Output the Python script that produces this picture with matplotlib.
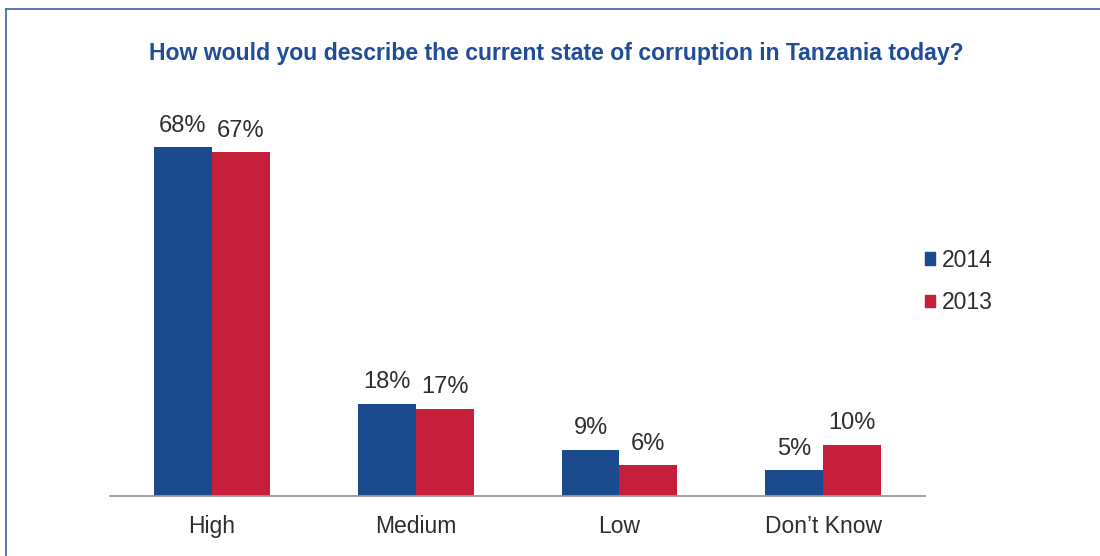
import numpy as np
import matplotlib.pyplot as plt
from matplotlib.patches import Patch
from matplotlib.lines import Line2D

categories = ['High', 'Medium', 'Low', "Don\u2019t Know"]
vals_2014 = [68, 18, 9, 5]
vals_2013 = [67, 17, 6, 10]
years = ['2014', '2013']

blue = '#1b4a8f'
red = '#c51f3c'
text_gray = '#2e2e2e'

plt.rcParams['font.family'] = ['Liberation Sans', 'DejaVu Sans']

fig = plt.figure(figsize=(11, 5.56), dpi=100)
ax = fig.add_axes([0.1, 0.108, 0.741, 0.692])

x = np.arange(len(categories))
w = 0.284
b1 = ax.bar(x - w / 2, vals_2014, w, color=blue, label=years[0])
b2 = ax.bar(x + w / 2, vals_2013, w, color=red, label=years[1])

for bars, vals in ((b1, vals_2014), (b2, vals_2013)):
    for rect, v in zip(bars, vals):
        ax.annotate(f'{v}%', (rect.get_x() + rect.get_width() / 2, v),
                    xytext=(0, 7.5), textcoords='offset points',
                    ha='center', va='bottom', fontsize=17, color=text_gray)

ax.set_xlim(-0.5, 3.5)
ax.set_ylim(0, 75)
ax.set_xticks(x)
ax.set_xticklabels(categories, fontsize=16.5, color=text_gray)
ax.tick_params(axis='x', length=0, pad=14)
ax.set_yticks([])
for side in ('top', 'right', 'left'):
    ax.spines[side].set_visible(False)
ax.spines['bottom'].set_color('#999999')
ax.spines['bottom'].set_linewidth(1.3)

fig.text(0.506, 0.903, 'How would you describe the current state of corruption in Tanzania today?',
         ha='center', va='center', fontsize=16.6, fontweight='bold', color='#1f4d96')

handles = [Patch(color=blue, label=years[0]), Patch(color=red, label=years[1])]
fig.legend(handles=handles, loc='center left', bbox_to_anchor=(0.822, 0.494),
           frameon=False, fontsize=16.5, handlelength=0.45, handleheight=0.45,
           handletextpad=0.3, labelspacing=0.85, labelcolor=text_gray)

# thin blue frame along the top and left edges
fig.add_artist(Line2D([0.0055, 0.0055], [0, 0.984], color='#4a6db3', lw=1.3,
                      transform=fig.transFigure))
fig.add_artist(Line2D([0.0055, 1], [0.984, 0.984], color='#4a6db3', lw=1.3,
                      transform=fig.transFigure))

fig.savefig('out.png', dpi=100)
